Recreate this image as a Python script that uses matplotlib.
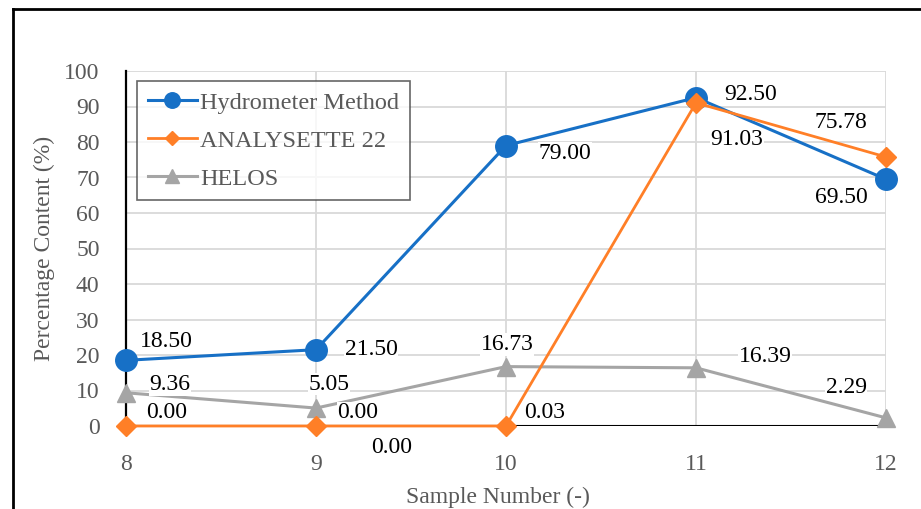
import matplotlib
import matplotlib.pyplot as plt
from matplotlib.lines import Line2D

matplotlib.use("Agg")

samples = [8, 9, 10, 11, 12]
hydrometer = [18.50, 21.50, 79.00, 92.50, 69.50]
analysette = [0.00, 0.00, 0.00, 91.03, 75.78]
helos = [9.36, 5.05, 16.73, 16.39, 2.29]

hydro_labels = ["18.50", "21.50", "79.00", "92.50", "69.50"]
analysette_labels = ["0.00", "0.00", "0.03", "91.03", "75.78"]
helos_labels = ["9.36", "5.05", "16.73", "16.39", "2.29"]

# label offsets from their point, in pixels
hydro_off = [(40, 19), (55, 0), (59, -8), (55, 3), (-45, -18)]
analysette_off = [(41, 13), (42, 13), (39, 13), (41, -37), (-45, 34)]
helos_off = [(44, 8), (13, 24), (1, 22), (69, 11), (-40, 30)]

blue = "#1770C6"
orange = "#FF7F27"
gray = "#A5A5A5"
text_gray = "#595959"
fs = 17

plt.rcParams["font.family"] = ["Liberation Serif", "DejaVu Serif"]

fig = plt.figure(figsize=(9.21, 5.09), dpi=100)
ax = fig.add_axes([126 / 921, 1 - 426 / 509, 760 / 921, 355 / 509])

ax.plot(samples, hydrometer, color=blue, lw=2.2, marker="o", ms=15.5,
        label="Hydrometer Method", clip_on=False, zorder=4)
ax.plot(samples, analysette, color=orange, lw=2.0, marker="D", ms=10.5,
        label="ANALYSETTE 22", clip_on=False, zorder=5)
ax.plot(samples, helos, color=gray, lw=2.2, marker="^", ms=13.5,
        label="HELOS", clip_on=False, zorder=3)


def add_labels(values, labels, offsets):
    for x, y, txt, (dx, dy) in zip(samples, values, labels, offsets):
        ax.annotate(txt, (x, y), xytext=(dx, dy), textcoords="offset pixels",
                    ha="center", va="center", fontsize=fs, color="black",
                    bbox=dict(facecolor="white", edgecolor="none", pad=0.5),
                    annotation_clip=False, zorder=6)


add_labels(hydrometer, hydro_labels, hydro_off)
add_labels(analysette, analysette_labels, analysette_off)
add_labels(helos, helos_labels, helos_off)
# stray label below the axis
ax.text(9.4, -6.0, "0.00", ha="center", va="center", fontsize=fs, color="black",
        clip_on=False)

ax.set_xlim(8, 12)
ax.set_ylim(0, 100)
ax.set_xticks(samples)
ax.set_yticks(range(0, 101, 10))
ax.grid(True, color="#D9D9D9", lw=1.3)
ax.set_axisbelow(True)
ax.axhline(0, color="black", lw=1.5, zorder=2)
ax.tick_params(length=0, labelsize=fs, labelcolor=text_gray)
ax.tick_params(axis="x", pad=20)
ax.tick_params(axis="y", pad=19)

for side in ["top", "right", "bottom"]:
    ax.spines[side].set_visible(False)
ax.spines["left"].set_color("black")
ax.spines["left"].set_linewidth(1.6)

ax.set_xlabel("Sample Number (-)", fontsize=fs, color=text_gray)
ax.set_ylabel("Percentage Content (%)", fontsize=fs, color=text_gray)
ax.xaxis.set_label_coords(0.49, -0.2)
ax.yaxis.set_label_coords(-0.107, 0.5)
ax.xaxis.label.set_va("center")
ax.yaxis.label.set_va("center")

leg = ax.legend(loc="upper left", bbox_to_anchor=(0.0145, 0.972), borderaxespad=0,
                fontsize=17.5, frameon=True, fancybox=False, handlelength=2.0,
                handletextpad=0.15, labelspacing=0.65, borderpad=0.45,
                markerscale=0.72)
leg.get_frame().set_edgecolor("#404040")
leg.get_frame().set_linewidth(1.2)
for txt in leg.get_texts():
    txt.set_color(text_gray)

# outer frame of the figure (only left and top edges visible)
fig.add_artist(Line2D([13 / 921, 13 / 921], [0, 1 - 9 / 509], color="black", lw=2,
                      transform=fig.transFigure))
fig.add_artist(Line2D([13 / 921, 1], [1 - 9 / 509, 1 - 9 / 509], color="black", lw=2,
                      transform=fig.transFigure))

fig.savefig("out.png", dpi=100)
